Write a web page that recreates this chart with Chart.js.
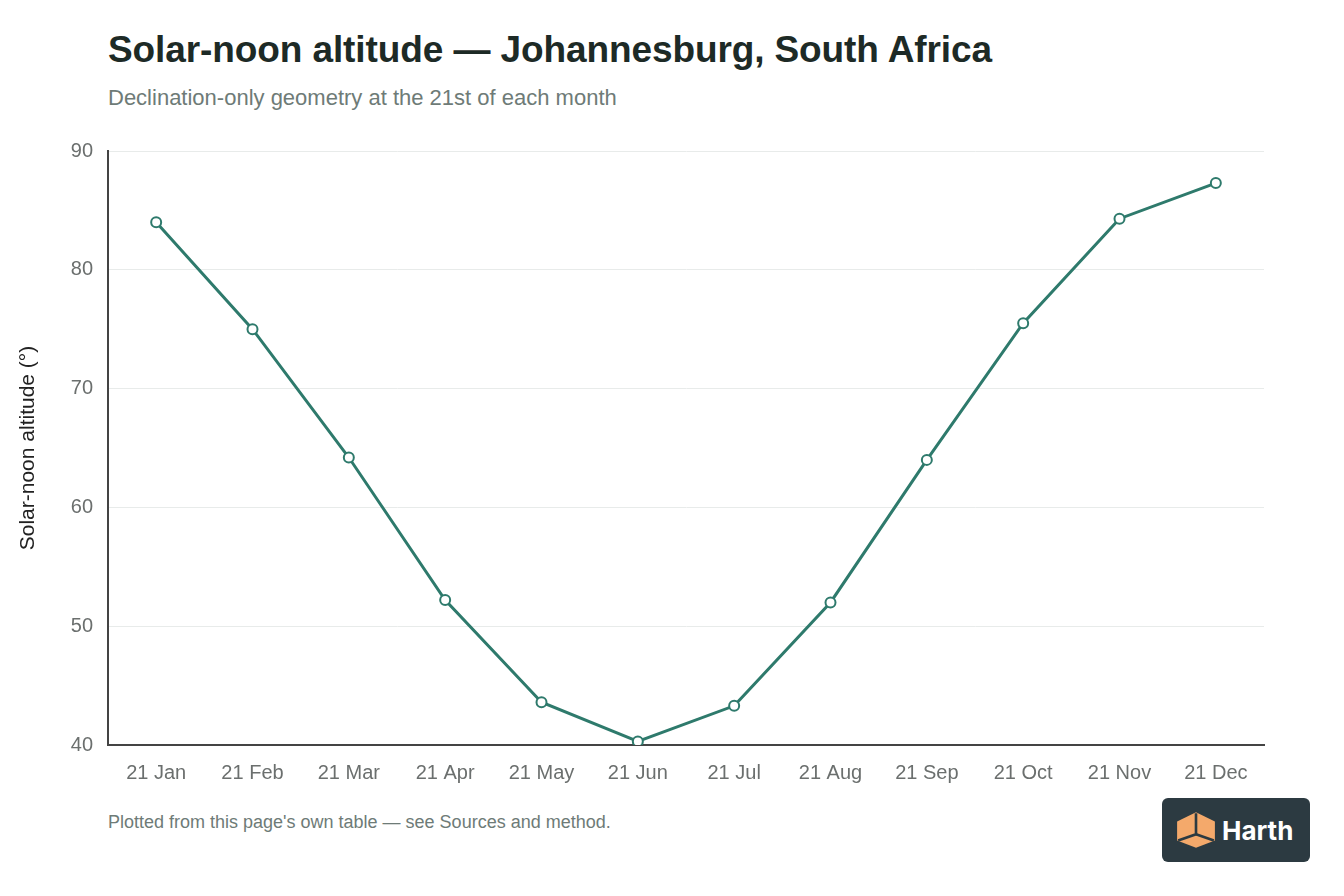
<!DOCTYPE html>
<html>
<head>
<meta charset="utf-8">
<script src="https://cdn.jsdelivr.net/npm/chart.js@4.4.1/dist/chart.umd.min.js"></script>
<style>
  body { margin: 0; background: #fff; font-family: "Liberation Sans", Arial, sans-serif; }
  #page { position: relative; width: 1344px; height: 896px; overflow: hidden; }
  h1 { position: absolute; left: 108px; top: 29px; margin: 0; font-size: 37px; font-weight: bold; color: #1d2a26; letter-spacing: -0.1px; }
  .sub { position: absolute; left: 108px; top: 85px; font-size: 22px; color: #6e7b77; }
  .foot { position: absolute; left: 108px; top: 812px; font-size: 18px; color: #6e7b77; }
  #wrap { position: absolute; left: 0; top: 124px; width: 1280px; height: 676px; }
  .logo { position: absolute; left: 1162px; top: 798px; width: 148px; height: 64px; background: #2c3a41; border-radius: 6px; }
  .logo svg { position: absolute; left: 13px; top: 13px; }
  .logo span { position: absolute; left: 60px; top: 17px; color: #fff; font-size: 26px; font-weight: bold; font-family: "Inter", "Liberation Sans", sans-serif; }
</style>
</head>
<body>
<div id="page">
  <h1>Solar-noon altitude — Johannesburg, South Africa</h1>
  <div class="sub">Declination-only geometry at the 21st of each month</div>
  <div id="wrap"><canvas id="chart"></canvas></div>
  <div class="foot">Plotted from this page's own table — see Sources and method.</div>
  <div class="logo">
    <svg width="42" height="38" viewBox="0 0 40 36">
      <polygon points="20,1 38,10 38,28 20,35 2,28 2,10" fill="#f4a96b"/>
      <polyline points="20,2 20,22 3,28" fill="none" stroke="#2c3a41" stroke-width="2.5"/>
      <line x1="20" y1="22" x2="37" y2="28" stroke="#2c3a41" stroke-width="2.5"/>
    </svg>
    <span>Harth</span>
  </div>
</div>
<script>
const months = ['21 Jan', '21 Feb', '21 Mar', '21 Apr', '21 May', '21 Jun',
                '21 Jul', '21 Aug', '21 Sep', '21 Oct', '21 Nov', '21 Dec'];
const altitude = [84.0, 75.0, 64.2, 52.2, 43.6, 40.3, 43.3, 52.0, 64.0, 75.5, 84.3, 87.3];
const yTicks = [40, 50, 60, 70, 80, 90];

const lineColor = '#2e7a6c';
const tickColor = '#6b6f6e';

new Chart(document.getElementById('chart'), {
    type: 'line',
    data: {
        labels: months,
        datasets: [{
            data: altitude,
            borderColor: lineColor,
            borderWidth: 3,
            pointRadius: 5,
            pointBorderWidth: 2,
            pointBackgroundColor: '#fff',
            pointBorderColor: lineColor,
            tension: 0
        }]
    },
    options: {
        responsive: true,
        maintainAspectRatio: false,
        animation: false,
        layout: { padding: { top: 12, right: 16 } },
        plugins: { legend: { display: false }, tooltip: { enabled: false } },
        scales: {
            x: {
                offset: true,
                grid: { display: false, drawTicks: false },
                border: { color: '#444', width: 2 },
                ticks: { color: tickColor, font: { size: 20, family: 'Liberation Sans' }, padding: 16, maxRotation: 0 },
                afterFit: (s) => { s.height = 55; }
            },
            y: {
                min: 40,
                max: 90,
                afterBuildTicks: (s) => { s.ticks = yTicks.map(v => ({ value: v })); },
                grid: { color: '#e8ebea', drawTicks: false },
                border: { color: '#444', width: 2 },
                ticks: { color: tickColor, font: { size: 20, family: 'Liberation Sans' }, padding: 15 },
                title: { display: true, text: 'Solar-noon altitude (°)', color: '#222', font: { size: 21, family: 'Liberation Sans' }, padding: { top: 16, bottom: 0 } },
                afterFit: (s) => { s.width = 108; }
            }
        }
    }
});
</script>
</body>
</html>
